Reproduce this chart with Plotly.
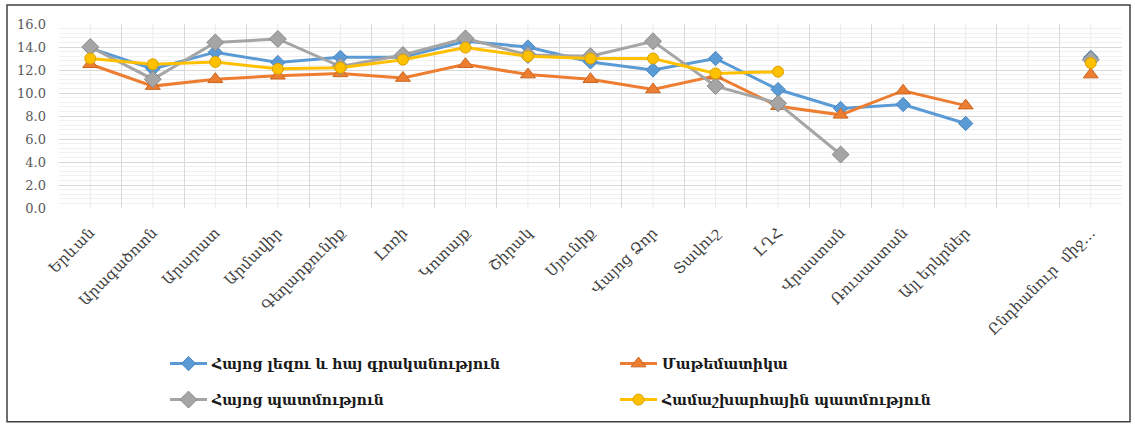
import plotly.graph_objects as go

categories = ["Երևան", "Արագածոտն", "Արարատ", "Արմավիր", "Գեղարքունիք", "Լոռի", "Կոտայք",
              "Շիրակ", "Սյունիք", "Վայոց Ձոր", "Տավուշ", "ԼՂՀ", "Վրաստան", "Ռուսաստան",
              "Այլ երկրներ", " ", "Ընդհանուր  միջ…"]

armenian_lang = [13.9, 12.1, 13.55, 12.65, 13.1, 13.1, 14.5, 14.0, 12.7, 12.0, 13.0, 10.3, 8.65, 9.0, 7.35, None, 13.1]
mathematics = [12.5, 10.6, 11.2, 11.5, 11.7, 11.3, 12.5, 11.6, 11.2, 10.3, 11.5, 8.85, 8.1, 10.2, 8.9, None, 11.6]
armenian_hist = [14.0, 11.2, 14.4, 14.7, 12.3, 13.3, 14.75, 13.3, 13.2, 14.5, 10.6, 9.1, 4.65, None, None, None, 12.9]
world_hist = [13.0, 12.5, 12.7, 12.1, 12.2, 12.9, 13.95, 13.2, 13.0, 13.0, 11.7, 11.85, None, None, None, None, 12.6]

series_names = ["Հայոց լեզու և հայ գրականություն", "Մաթեմատիկա",
                "Հայոց պատմություն", "Համաշխարհային պատմություն"]

L, R, T, B = 59, 13, 24, 217
W, H = 1135, 426
pw, ph = W - L - R, H - T - B

def px_x(p):
    return (p - L) / pw

def px_y(p):
    return (H - B - p) / ph

fig = go.Figure()

styles = [
    dict(color="#5B9BD5", symbol="diamond", size=11, lc="#4a86bf", legend="legend"),
    dict(color="#ED7D31", symbol="triangle-up", size=13, lc="#c9651f", legend="legend"),
    dict(color="#A5A5A5", symbol="diamond", size=13, lc="#8a8a8a", legend="legend2"),
    dict(color="#FFC000", symbol="circle", size=11, lc="#d9a300", legend="legend2"),
]
data = [armenian_lang, mathematics, armenian_hist, world_hist]

for name, ys, st in zip(series_names, data, styles):
    fig.add_trace(go.Scatter(
        x=categories, y=ys, name=name, mode="lines+markers",
        line=dict(color=st["color"], width=3),
        marker=dict(symbol=st["symbol"], size=st["size"], color=st["color"],
                    line=dict(color=st["lc"], width=1)),
        connectgaps=False, legend=st["legend"],
    ))

# light vertical lines at category centres
shapes = []
for c in categories:
    shapes.append(dict(type="line", xref="x", yref="paper", x0=c, x1=c, y0=0, y1=1,
                       line=dict(color="#ececec", width=1), layer="below"))
# outer chart border
shapes.append(dict(type="rect", xref="paper", yref="paper",
                   x0=px_x(7), x1=px_x(1130), y0=px_y(424), y1=px_y(5),
                   line=dict(color="#404040", width=1.5), layer="above"))

legend_font = dict(family="DejaVu Serif", size=14, color="#1a1a1a", weight="bold")

fig.update_layout(
    width=W, height=H,
    margin=dict(l=L, r=R, t=T, b=B),
    paper_bgcolor="white", plot_bgcolor="white",
    shapes=shapes,
    xaxis=dict(
        type="category", categoryorder="array", categoryarray=categories,
        tickangle=-45, tickson="boundaries", ticks="",
        showgrid=True, gridcolor="#d9d9d9", gridwidth=1,
        tickfont=dict(family="DejaVu Serif", size=15, color="#404040"),
        showline=False, zeroline=False, range=[-0.5, 16.5],
        ticklabelstandoff=12,
    ),
    yaxis=dict(
        range=[0, 16], dtick=2, tickformat=".1f",
        showgrid=True, gridcolor="#d9d9d9", gridwidth=1,
        minor=dict(dtick=0.4, showgrid=True, gridcolor="#f0f0f0", gridwidth=1),
        tickfont=dict(family="DejaVu Serif", size=13, color="#595959"),
        zeroline=False, showline=False, ticklabelstandoff=12,
    ),
    legend=dict(orientation="h", x=px_x(165), y=px_y(364), xanchor="left", yanchor="middle",
                entrywidth=398, entrywidthmode="pixels", font=legend_font,
                bgcolor="rgba(0,0,0,0)", itemwidth=37),
    legend2=dict(orientation="h", x=px_x(165), y=px_y(400), xanchor="left", yanchor="middle",
                 entrywidth=398, entrywidthmode="pixels", font=legend_font,
                 bgcolor="rgba(0,0,0,0)", itemwidth=37),
)

fig.write_html("out.html", config={"displayModeBar": False},
               post_script="document.body.style.margin='0';")
